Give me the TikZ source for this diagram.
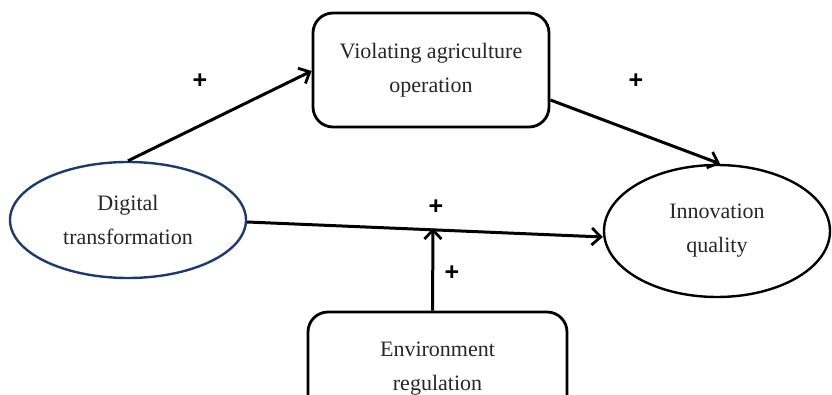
\documentclass[tikz,border=0pt]{standalone}
\usepackage{fontspec}
\setmainfont{Liberation Serif}
\setsansfont{Liberation Sans}
\usetikzlibrary{shapes.geometric,arrows.meta}
\definecolor{navy}{HTML}{1F3A68}
\tikzset{
  lbl/.style={font=\fontsize{22}{34}\selectfont, align=center, text=black!85},
  oval/.style={ellipse, draw, line width=2.4pt, inner sep=0pt, lbl},
  rbox/.style={draw, rounded corners=20pt, line width=2.8pt, inner sep=0pt, lbl},
  conn/.style={line width=3pt, -{Straight Barb[length=9pt,width=17pt,line width=2.8pt]}},
  plus/.style={font=\sffamily\bfseries\fontsize{25}{25}\selectfont, inner sep=0pt},
}
\begin{document}
\begin{tikzpicture}[x=1pt,y=-1pt]
\useasboundingbox (0,0) rectangle (832,395);
\clip (0,0) rectangle (832,395);
\node[oval, draw=navy, minimum width=236pt, minimum height=116pt] (DT) at (128,220) {Digital\\transformation};
\node[oval, minimum width=226pt, minimum height=132pt] (IQ) at (717,231) {Innovation\\quality};
\node[rbox, minimum width=236pt, minimum height=114pt] (VAO) at (431,70) {Violating agriculture\\operation};
\node[rbox, minimum width=259pt, minimum height=114pt] (ER) at (437.5,369) {Environment\\regulation};
\coordinate (m) at (433,228);
\draw[conn] (DT.north) -- ([yshift=-1pt]VAO.west);
\draw[conn] ([yshift=-30pt]VAO.east) -- ([xshift=3pt]IQ.north);
\draw[conn] ([yshift=-2pt]DT.east) -- ([yshift=-6pt]IQ.west);
\draw[conn] ([xshift=-5pt]ER.north) -- (m);
\node[plus] (p1) at (200,81) {+};
\node[plus] (p2) at (636,81) {+};
\node[plus] (p3) at (436,207) {+};
\node[plus] (p4) at (452,273) {+};
\end{tikzpicture}
\end{document}
